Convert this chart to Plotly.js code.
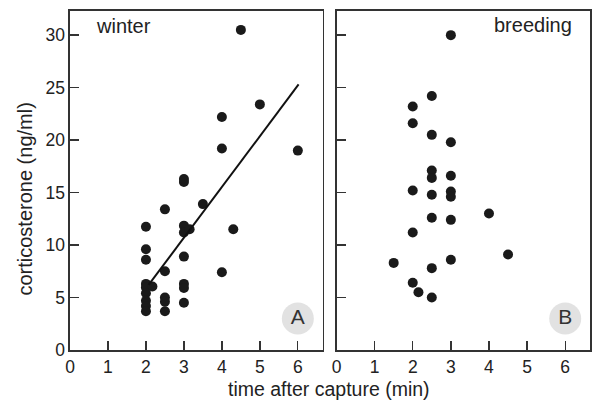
<!DOCTYPE html>
<html>
<head>
<meta charset="utf-8">
<script src="https://cdn.plot.ly/plotly-3.0.1.min.js"></script>
<style>html,body{margin:0;padding:0;background:#fff;}#chart{width:594px;height:404px;}</style>
</head>
<body>
<div id="chart"></div>
<script>
// Winter panel (A)
var winterX = [4.5, 5, 4, 4, 6, 3, 3, 2.5, 3.5, 2, 3, 3, 3.15, 4.3, 2, 2, 3, 2.5, 4, 2, 2, 2.17, 2, 2, 2, 2, 2.5, 2.5, 2.5, 3, 3, 3];
var winterY = [30.5, 23.4, 22.2, 19.2, 19.0, 16.0, 16.3, 13.4, 13.9, 11.75, 11.85, 11.2, 11.5, 11.5, 9.6, 8.6, 8.9, 7.5, 7.4, 6.3, 5.95, 6.05, 5.4, 4.7, 4.2, 3.7, 5.0, 4.6, 3.7, 6.3, 5.9, 4.5];
// Regression line in winter panel
var fitX = [2.07, 6.02];
var fitY = [6.2, 25.3];
// Breeding panel (B)
var breedX = [3, 2.5, 2, 2, 2.5, 3, 2.5, 2.5, 3, 2, 2.5, 3, 3, 4, 2.5, 3, 2, 4.5, 1.5, 3, 2.5, 2, 2.15, 2.5];
var breedY = [30.0, 24.2, 23.2, 21.6, 20.5, 19.8, 17.1, 16.4, 16.6, 15.2, 14.8, 15.1, 14.6, 13.0, 12.6, 12.4, 11.2, 9.1, 8.3, 8.6, 7.8, 6.4, 5.5, 5.0];
// Panel labels
var panelNames = ['winter', 'breeding'];
var panelLetters = ['A', 'B'];
var letterX = [6, 6];
var letterY = [3.0, 3.0];
var xTicks = [0, 1, 2, 3, 4, 5, 6];
var yTicks = [0, 5, 10, 15, 20, 25, 30];
var xTitle = 'time after capture (min)';
var yTitle = 'corticosterone (ng/ml)';

var FAM = 'Liberation Sans, Arial, Helvetica, sans-serif';
var dot = {color: '#1a1a1a', size: 10};
var letterFont = {family: FAM, size: 21, color: '#333'};
var traces = [
  {x: letterX.slice(0,1), y: letterY.slice(0,1), mode: 'markers+text', text: [panelLetters[0]], textposition: 'middle center',
   textfont: letterFont, marker: {size: 32, color: '#e2e2e2'}, xaxis: 'x', yaxis: 'y', hoverinfo: 'skip', cliponaxis: false},
  {x: letterX.slice(1), y: letterY.slice(1), mode: 'markers+text', text: [panelLetters[1]], textposition: 'middle center',
   textfont: letterFont, marker: {size: 32, color: '#e2e2e2'}, xaxis: 'x2', yaxis: 'y2', hoverinfo: 'skip', cliponaxis: false},
  {x: winterX, y: winterY, mode: 'markers', marker: dot, xaxis: 'x', yaxis: 'y', cliponaxis: false},
  {x: fitX, y: fitY, mode: 'lines', line: {color: '#111', width: 2}, xaxis: 'x', yaxis: 'y'},
  {x: breedX, y: breedY, mode: 'markers', marker: dot, xaxis: 'x2', yaxis: 'y2', cliponaxis: false}
];

var font = {family: FAM, size: 20, color: '#222'};
var xTitleFont = {family: FAM, size: 19.5, color: '#222'};
var tickFont = {family: FAM, size: 17.5, color: '#222'};
var axBase = {
  showgrid: false, zeroline: false, showline: true, linecolor: '#333', linewidth: 1.6,
  mirror: true, ticks: 'inside', ticklen: 9, tickwidth: 1.3, tickcolor: '#333',
  tickfont: tickFont
};
function ax(extra) { var o = {}; for (var k in axBase) o[k] = axBase[k]; for (var k2 in extra) o[k2] = extra[k2]; return o; }

var layout = {
  width: 594, height: 404,
  margin: {l: 70, r: 4, t: 11, b: 54},
  paper_bgcolor: '#fff', plot_bgcolor: '#fff',
  showlegend: false,
  font: font,
  xaxis: ax({domain: [0, 0.4856], range: [0, 6.65], tickvals: xTicks, anchor: 'y'}),
  yaxis: ax({range: [0, 32.3], tickvals: yTicks, anchor: 'x'}),
  xaxis2: ax({domain: [0.5125, 1], range: [0, 6.65], tickvals: xTicks, anchor: 'y2'}),
  yaxis2: ax({range: [0, 32.3], tickvals: yTicks, showticklabels: false, anchor: 'x2'}),
  annotations: [
    {text: panelNames[0], xref: 'x domain', yref: 'y domain', x: 0.097, y: 0.956, xanchor: 'left', yanchor: 'middle', showarrow: false, font: font},
    {text: panelNames[1], xref: 'x2 domain', yref: 'y2 domain', x: 0.936, y: 0.958, xanchor: 'right', yanchor: 'middle', showarrow: false, font: font},
    {text: xTitle, xref: 'paper', yref: 'paper', x: 0.499, y: -0.114, xanchor: 'center', yanchor: 'middle', showarrow: false, font: xTitleFont, borderpad: 0},
    {text: yTitle, xref: 'paper', yref: 'paper', x: -0.087, y: 0.446, xanchor: 'center', yanchor: 'middle', textangle: -90, showarrow: false, font: font}
  ]
};

Plotly.newPlot('chart', traces, layout, {displayModeBar: false, staticPlot: true});
</script>
</body>
</html>
